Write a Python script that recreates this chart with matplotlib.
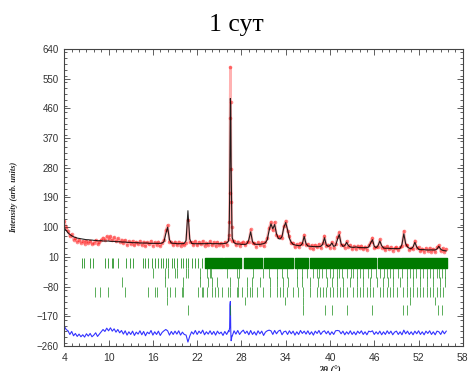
import numpy as np
import matplotlib
matplotlib.use('Agg')
import matplotlib.pyplot as plt
from matplotlib.ticker import MultipleLocator

# 2theta grid: 0.25 deg steps, finer steps over the main peak near 26.5
two_theta = np.round(np.concatenate([np.arange(4.0, 26.26, 0.25),
                                     np.arange(26.30, 26.71, 0.05),
                                     np.arange(26.75, 55.76, 0.25)]), 2)

# calculated profile
y_calc = [
    98, 90, 83, 78, 74, 71, 69, 67, 66, 65,
    64, 63, 62, 62, 61, 61, 60, 60, 59, 59,
    59, 58, 58, 58, 58, 57, 57, 57, 56, 56,
    56, 55, 55, 55, 54, 54, 54, 53, 53, 53,
    53, 52, 52, 52, 52, 52, 51, 51, 51, 51,
    51, 51, 51, 52, 56, 80, 100, 62, 52, 51,
    51, 50, 50, 50, 50, 51, 60, 150, 64, 51,
    50, 50, 50, 50, 50, 50, 50, 50, 51, 51,
    50, 50, 50, 50, 50, 50, 50, 51, 52, 58,
    # fine steps 26.30 .. 26.70
    72, 105, 190, 345, 490, 470, 300, 195, 110,
    # 26.75 .. 55.75
    68, 53, 50, 49, 49, 48, 48, 48, 50, 62,
    86, 56, 49, 48, 48, 48, 49, 50, 53, 62,
    90, 110, 95, 108, 80, 66, 64, 72, 100, 114,
    92, 66, 54, 48, 46, 45, 44, 44, 50, 72,
    50, 43, 42, 42, 41, 41, 41, 41, 42, 48,
    68, 46, 42, 44, 52, 42, 44, 62, 78, 50,
    42, 44, 54, 44, 40, 39, 39, 40, 39, 38,
    38, 38, 38, 38, 40, 52, 62, 42, 38, 44,
    58, 44, 37, 36, 36, 36, 35, 35, 35, 35,
    35, 36, 48, 80, 50, 40, 36, 35, 40, 54,
    40, 33, 32, 32, 32, 31, 31, 31, 31, 31,
    31, 34, 42, 33, 30, 29, 28,
]

y_resid = [
    20, 10, 6, -5, 4, -9, -2, -11, -4, -12,
    -6, -13, -3, -10, -2, -12, -7, 0, -11, -4,
    3, 10, 4, 14, 6, 15, 5, 12, 2, 10,
    0, 7, -4, 6, -7, 3, -5, 5, -8, 2,
    -4, 6, -6, 4, -9, 2, -3, 7, -7, 3,
    -5, 5, -8, 1, 6, 10, 6, -7, 4, -5,
    5, -4, 6, -7, 2, -5, -7, -28, -10, 3,
    -4, 7, -5, 5, -2, 8, -6, 3, -4, 6,
    -5, 4, -7, 5, -3, 2, -8, 4, -5, 6,
    3, 10, 15, 85, 95, 10, -24, -20, -10,
    -10, 6, -4, 7, -5, 3, 8, -2, 5, -6,
    7, -5, 3, -7, 6, -3, 5, -8, 2, 6,
    8, 6, -5, 7, -3, 5, 8, -6, 3, 5,
    -5, 6, -3, 5, -7, 3, -5, 7, -2, 5,
    -4, 6, -5, 3, -7, 5, -2, 7, -5, 3,
    6, -3, 5, -6, 3, -5, 6, 7, 6, -3,
    5, -6, 3, -4, 6, -5, 3, -6, 5, -2,
    6, -5, 3, -6, 5, 3, 6, -5, 3, -4,
    5, -6, 3, -5, 6, -3, 5, -6, 2, 5,
    -5, 3, -6, 8, -3, 5, -5, 3, -6, 5,
    -3, 6, -5, 3, -6, 5, -2, 6, -5, 3,
    -6, 5, 3, -5, 6, -3, 5,
]
diff_offset = -220

# Bragg reflection positions, one list per row of ticks
bragg_a = [6.35, 6.71, 7.48, 7.84, 9.51, 9.87, 10.42, 10.64, 11.32, 12.31,
           12.9, 13.35, 14.7, 14.93, 15.38, 15.83, 16.28, 16.74, 17.1, 17.41,
           17.73, 18.09, 18.54, 18.9, 19.22, 19.8, 20.12, 20.48, 20.8, 21.25,
           21.7, 22.15, 22.61]
# above ~23 deg the first row merges into a solid band
bragg_a_band = [(23.05, 25.45), (25.6, 27.95), (28.3, 30.85), (31.05, 35.0),
                (35.2, 37.05), (37.25, 46.3), (46.5, 49.45), (49.65, 55.8)]
bragg_b = [16.0, 17.65, 18.1, 19.0, 19.22, 20.49, 20.8, 22.38, 23.28, 23.7,
           23.87, 26.1, 27.35, 27.71, 29.52, 30.96, 31.77, 32.86, 33.44, 34.12,
           35.47, 36.15, 36.83, 37.64, 38.18, 38.5, 38.86, 39.5, 39.99, 40.4,
           40.89, 41.2, 41.57, 42.25, 42.8, 43.15, 43.6, 44.0, 44.5, 45.18,
           45.6, 46.2, 46.76, 47.3, 47.7, 48.12, 48.6, 49.24, 49.8, 50.37,
           50.9, 51.28, 51.7, 52.18, 52.6, 53.08, 53.5, 53.98, 54.44, 54.8,
           55.11, 55.57]
bragg_c = [11.77, 17.64, 20.12, 22.38, 23.5, 23.96, 24.64, 26.45, 27.57, 28.7,
           29.38, 30.51, 31.86, 32.77, 33.67, 34.35, 35.47, 36.15, 37.28, 38.41,
           39.54, 40.21, 40.89, 41.8, 42.7, 43.6, 44.5, 45.41, 46.31, 47.21,
           47.89, 48.57, 49.47, 50.37, 51.28, 52.18, 53.08, 53.98, 54.89, 55.57]
bragg_d = [8.16, 8.84, 9.96, 12.22, 15.38, 16.28, 16.5, 17.86, 18.32, 18.99,
           19.9, 20.12, 22.15, 22.6, 22.83, 23.28, 23.96, 24.41, 24.86, 25.32,
           26.22, 26.45, 27.35, 27.57, 28.03, 28.7, 29.15, 29.38, 30.06, 30.96,
           31.86, 32.77, 33.22, 33.67, 34.12, 35.02, 35.7, 36.38, 37.28, 38.18,
           38.6, 39.09, 39.5, 39.99, 40.44, 40.89, 41.34, 41.8, 42.25, 43.15,
           43.6, 44.05, 44.5, 44.96, 45.4, 45.86, 46.76, 47.21, 47.66, 48.12,
           48.6, 49.02, 49.92, 50.4, 50.83, 51.3, 51.73, 52.2, 52.63, 53.1,
           53.53, 53.98, 54.44, 54.9, 55.34]
bragg_d_long = [17.86, 28.48, 33.89, 36.38, 50.82, 54.21]
bragg_e = [20.8, 26.45, 36.37, 39.31, 40.21, 42.35, 45.63, 49.92, 50.5, 54.66, 55.2]

x = two_theta
y_calc = np.array(y_calc, dtype=float)
y_resid = np.array(y_resid, dtype=float)
y_obs = y_calc + y_resid
y_diff = y_resid + diff_offset

fig = plt.figure(figsize=(4.68, 3.71), dpi=100)
ax = fig.add_axes([0.1374, 0.0674, 0.8516, 0.8006])

ax.plot(x, y_obs, color='red', lw=1.8, alpha=0.3)
ax.scatter(x, y_obs, s=7, color='red', alpha=0.45, linewidths=0)
ax.plot(x, y_calc, color='black', lw=0.8, alpha=0.85)
ax.plot(x, y_diff, color='#3333ff', lw=0.8)

green = '#138a13'
ax.vlines(bragg_a, -24, 7, color=green, lw=0.7, alpha=0.8)
ax.broken_barh([(a, b - a) for a, b in bragg_a_band], (-24, 31), color='#007a00')
ax.vlines(bragg_b, -54, -24, color=green, lw=0.7, alpha=0.7)
ax.vlines(bragg_c, -81, -51, color=green, lw=0.7, alpha=0.7)
ax.vlines(bragg_d, -112, -81, color=green, lw=0.7, alpha=0.7)
ax.vlines(bragg_d_long, -136, -112, color=green, lw=0.7, alpha=0.7)
ax.vlines(bragg_e, -166, -136, color=green, lw=0.7, alpha=0.7)

ax.set_xlim(4, 58)
ax.set_ylim(-260, 640)
ax.set_xticks(np.arange(4, 59, 6))
ax.set_yticks(np.arange(-260, 641, 90))
ax.xaxis.set_minor_locator(MultipleLocator(1))
ax.yaxis.set_minor_locator(MultipleLocator(18))
ax.tick_params(which='both', direction='in', top=True, right=True,
               width=0.6, color='#444444')
ax.tick_params(which='major', length=4)
ax.tick_params(which='minor', length=2)
ax.tick_params(axis='y', labelsize=7, labelcolor='#333333', pad=4)
ax.tick_params(axis='x', labelsize=7.5, labelcolor='#333333', pad=5)
for lab in ax.get_xticklabels() + ax.get_yticklabels():
    lab.set_family('Liberation Sans')
for sp in ax.spines.values():
    sp.set_linewidth(0.8)
    sp.set_color('#444444')

fig.text(0.505, 1 - 31 / 371, '1 сут', ha='center', va='baseline',
         fontsize=18.5, family='Liberation Serif')
fig.text(14 / 468, 0.4677, 'Intensity (arb. units)', rotation=90,
         ha='center', va='center', fontsize=6, fontweight='bold',
         fontstyle='italic', family='Liberation Serif', color='#222222')
# axis title sits at the lower edge, mostly cut off as in the source image
fig.text(330 / 468, 0.014, '2θ (°)', ha='center', va='top', fontsize=7,
         fontweight='bold', fontstyle='italic', family='Liberation Serif',
         color='#222222')

fig.savefig('out.png', dpi=100)
